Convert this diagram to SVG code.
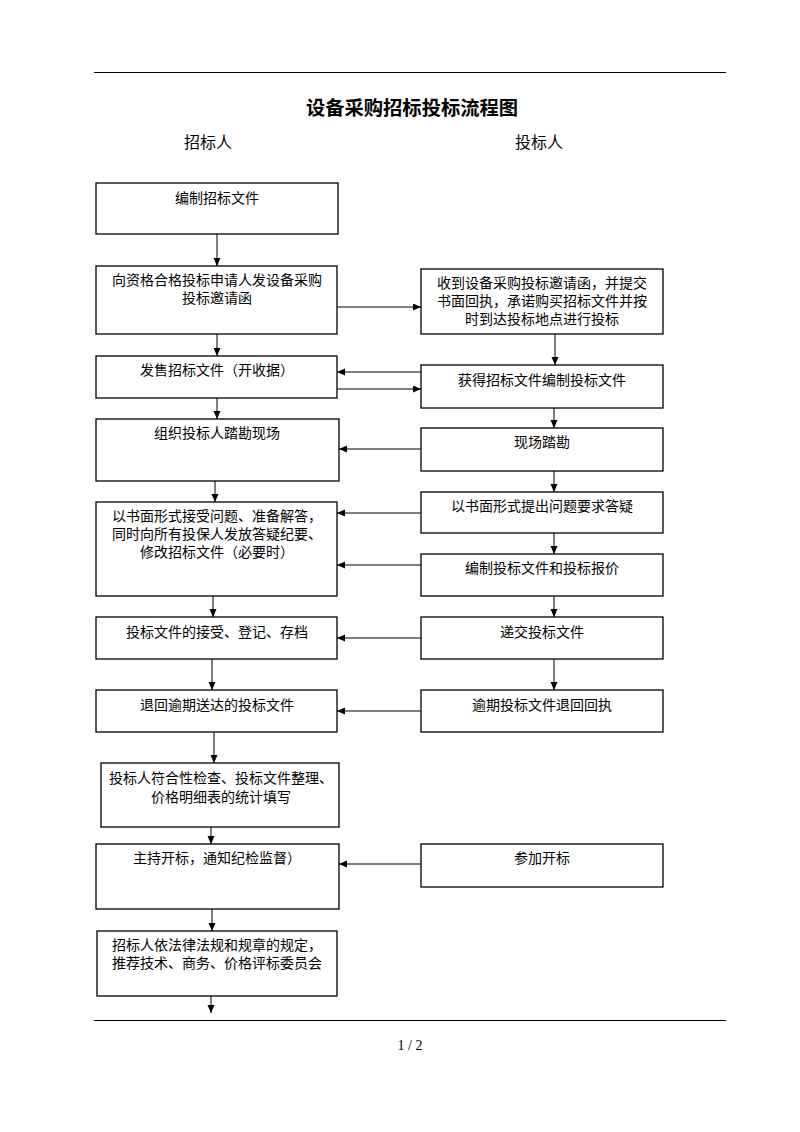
<svg xmlns="http://www.w3.org/2000/svg" width="800" height="1132" viewBox="0 0 800 1132">
<style>
.bg{fill:#fff}
.rule{stroke:#000;stroke-width:1}
.box{fill:#fff;stroke:#000;stroke-width:1.3}
.t{font-family:"Liberation Serif","Noto Sans CJK SC",serif;font-size:14px;fill:#000;text-anchor:middle}
.title{font-family:"Liberation Serif","Noto Sans CJK SC",serif;font-size:19.3px;font-weight:bold;fill:#000;text-anchor:middle}
.hdr{font-family:"Liberation Serif","Noto Sans CJK SC",serif;font-size:16px;fill:#000;text-anchor:middle}
.pg{font-family:"Liberation Serif",serif;font-size:14px;fill:#000;text-anchor:middle}
.c{stroke:#000;stroke-width:1;fill:none;marker-end:url(#ah)}
</style>
<defs>
<marker id="ah" markerUnits="userSpaceOnUse" markerWidth="9" markerHeight="8" refX="8" refY="3.5" orient="auto">
<path d="M0,0 L8,3.5 L0,7 Z" fill="#000"/>
</marker>
</defs>
<rect class="bg" x="0" y="0" width="800" height="1132"/>
<line class="rule" x1="94" y1="72.5" x2="726" y2="72.5"/>
<text class="title" x="412" y="115">设备采购招标投标流程图</text>
<text class="hdr" x="208" y="148">招标人</text>
<text class="hdr" x="539" y="148">投标人</text>

<g id="n1"><rect class="box" x="96" y="183" width="242" height="51"/><text class="t" x="217" y="203">编制招标文件</text></g>
<g id="n2"><rect class="box" x="96" y="266" width="241" height="68"/><text class="t" x="217" y="285">向资格合格投标申请人发设备采购</text><text class="t" x="217" y="303">投标邀请函</text></g>
<g id="nA"><rect class="box" x="421" y="269" width="242" height="65"/><text class="t" x="542" y="288">收到设备采购投标邀请函，并提交</text><text class="t" x="542" y="306">书面回执，承诺购买招标文件并按</text><text class="t" x="542" y="324">时到达投标地点进行投标</text></g>
<g id="n3"><rect class="box" x="96" y="356" width="241" height="42"/><text class="t" x="217" y="375">发售招标文件（开收据）</text></g>
<g id="nB"><rect class="box" x="421" y="365" width="242" height="43"/><text class="t" x="542" y="385">获得招标文件编制投标文件</text></g>
<g id="n4"><rect class="box" x="96" y="419" width="243" height="62"/><text class="t" x="217" y="438">组织投标人踏勘现场</text></g>
<g id="nC"><rect class="box" x="421" y="428" width="242" height="43"/><text class="t" x="542" y="447">现场踏勘</text></g>
<g id="n5"><rect class="box" x="96" y="502" width="241" height="94"/><text class="t" x="217" y="521">以书面形式接受问题、准备解答，</text><text class="t" x="217" y="539">同时向所有投保人发放答疑纪要、</text><text class="t" x="217" y="557">修改招标文件（必要时）</text></g>
<g id="nD"><rect class="box" x="421" y="492" width="242" height="41"/><text class="t" x="542" y="511">以书面形式提出问题要求答疑</text></g>
<g id="nE"><rect class="box" x="421" y="554" width="242" height="42"/><text class="t" x="542" y="573">编制投标文件和投标报价</text></g>
<g id="n6"><rect class="box" x="96" y="617" width="241" height="42"/><text class="t" x="217" y="637">投标文件的接受、登记、存档</text></g>
<g id="nF"><rect class="box" x="421" y="617" width="242" height="42"/><text class="t" x="542" y="637">递交投标文件</text></g>
<g id="n7"><rect class="box" x="96" y="690" width="241" height="42"/><text class="t" x="217" y="710">退回逾期送达的投标文件</text></g>
<g id="nG"><rect class="box" x="421" y="690" width="242" height="42"/><text class="t" x="542" y="710">逾期投标文件退回回执</text></g>
<g id="n8"><rect class="box" x="101" y="763" width="238" height="64"/><text class="t" x="221" y="783">投标人符合性检查、投标文件整理、</text><text class="t" x="221" y="802">价格明细表的统计填写</text></g>
<g id="n9"><rect class="box" x="96" y="844" width="243" height="65"/><text class="t" x="217" y="863">主持开标，通知纪检监督）</text></g>
<g id="nH"><rect class="box" x="421" y="844" width="242" height="43"/><text class="t" x="542" y="863">参加开标</text></g>
<g id="n10"><rect class="box" x="97" y="931" width="240" height="65"/><text class="t" x="217" y="950">招标人依法律法规和规章的规定，</text><text class="t" x="217" y="968">推荐技术、商务、价格评标委员会</text></g>

<g id="connectors">
<line class="c" x1="217" y1="234" x2="217" y2="266"/>
<line class="c" x1="337" y1="307" x2="421" y2="307"/>
<line class="c" x1="217" y1="334" x2="217" y2="356"/>
<line class="c" x1="555" y1="334" x2="555" y2="365"/>
<line class="c" x1="421" y1="372" x2="337" y2="372"/>
<line class="c" x1="337" y1="389" x2="421" y2="389"/>
<line class="c" x1="217" y1="398" x2="217" y2="419"/>
<line class="c" x1="554" y1="408" x2="554" y2="428"/>
<line class="c" x1="421" y1="449" x2="339" y2="449"/>
<line class="c" x1="215" y1="481" x2="215" y2="502"/>
<line class="c" x1="554" y1="471" x2="554" y2="492"/>
<line class="c" x1="421" y1="513" x2="337" y2="513"/>
<line class="c" x1="554" y1="533" x2="554" y2="554"/>
<line class="c" x1="421" y1="565" x2="337" y2="565"/>
<line class="c" x1="213" y1="596" x2="213" y2="617"/>
<line class="c" x1="554" y1="596" x2="554" y2="617"/>
<line class="c" x1="421" y1="638" x2="337" y2="638"/>
<line class="c" x1="212" y1="659" x2="212" y2="690"/>
<line class="c" x1="554" y1="659" x2="554" y2="690"/>
<line class="c" x1="421" y1="711" x2="337" y2="711"/>
<line class="c" x1="214" y1="732" x2="214" y2="763"/>
<line class="c" x1="211" y1="827" x2="211" y2="844"/>
<line class="c" x1="421" y1="864" x2="339" y2="864"/>
<line class="c" x1="212" y1="909" x2="212" y2="931"/>
<line class="c" x1="211" y1="996" x2="211" y2="1013"/>
</g>
<line class="rule" x1="94" y1="1020.5" x2="726" y2="1020.5"/>
<text class="pg" x="410" y="1050">1 / 2</text>
</svg>
